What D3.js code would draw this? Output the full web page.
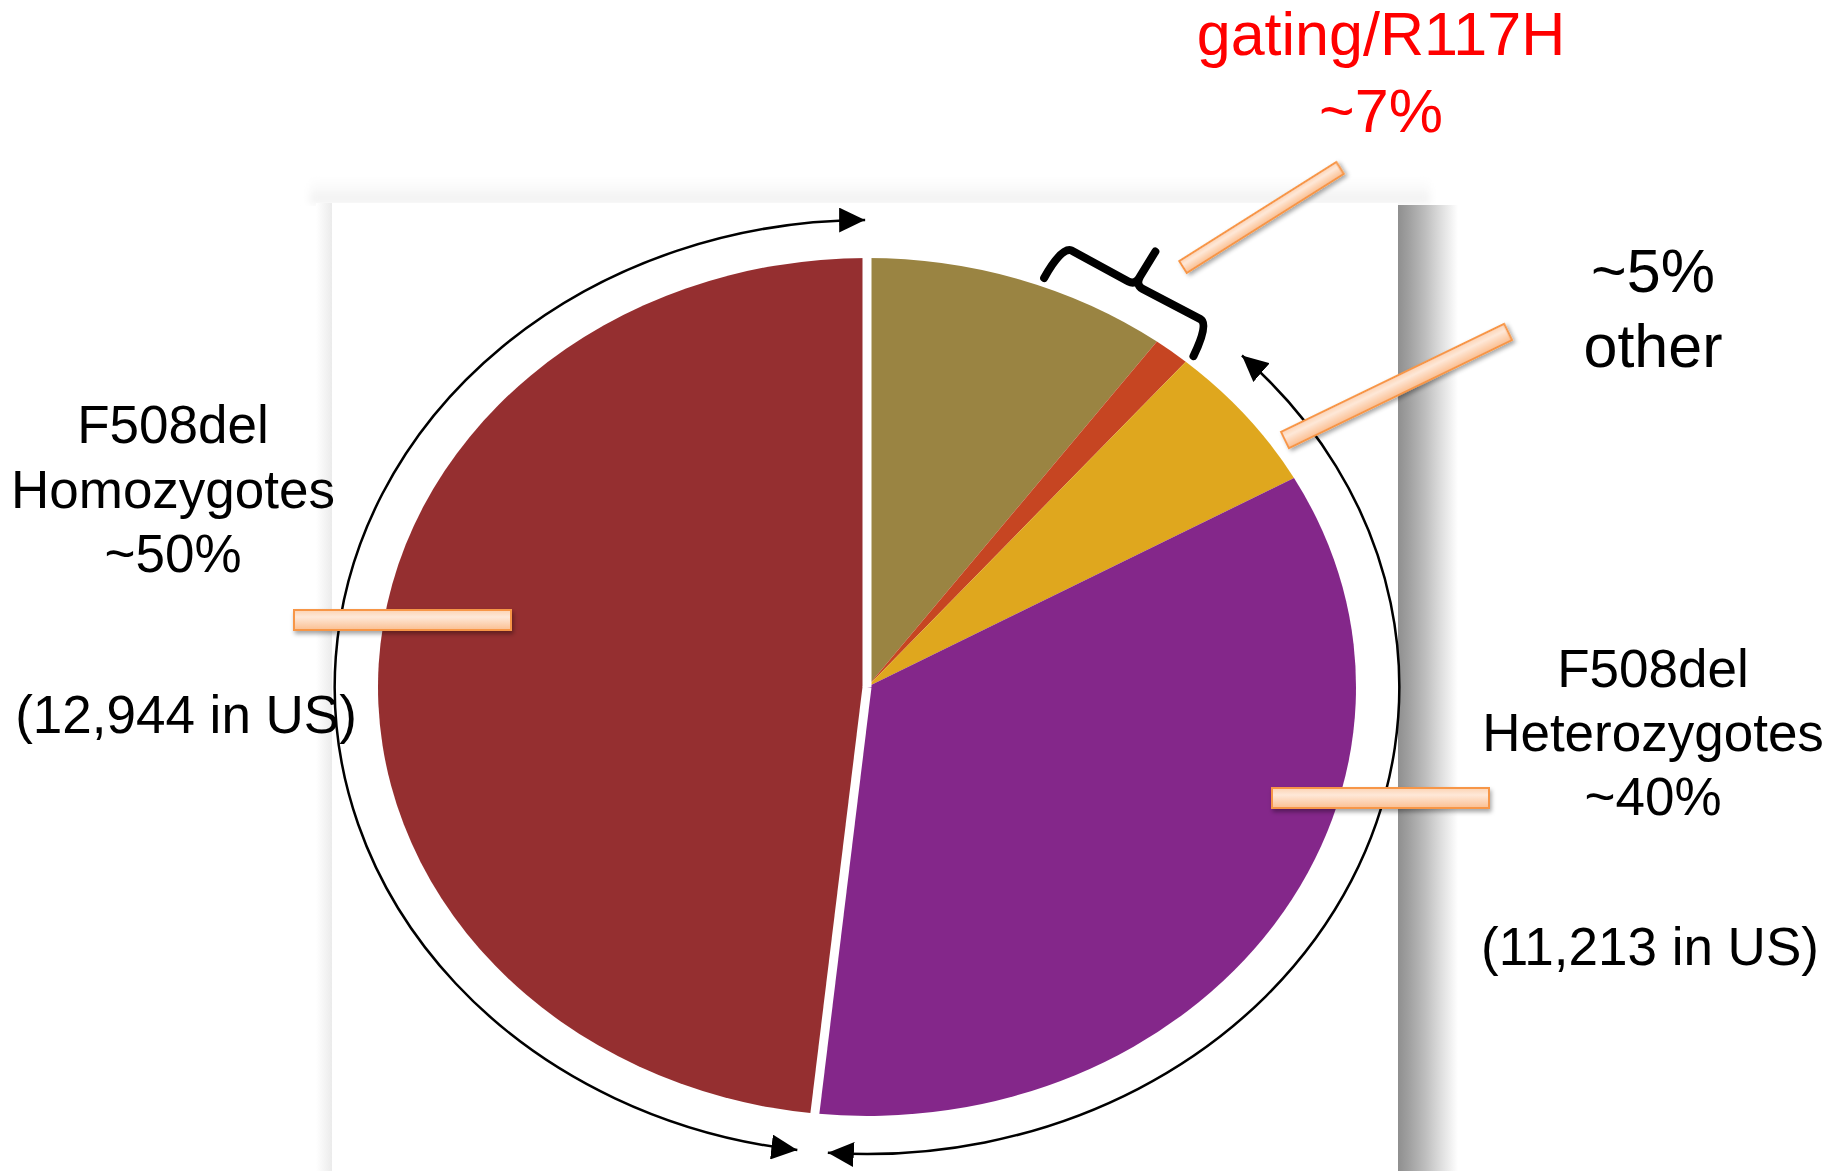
<!DOCTYPE html>
<html>
<head>
<meta charset="utf-8">
<script src="https://cdn.jsdelivr.net/npm/d3@7"></script>
<style>
  html, body { margin: 0; padding: 0; background: #fff; overflow: hidden; }
  text { font-family: "Liberation Sans", Arial, Helvetica, sans-serif; }
</style>
</head>
<body>
<svg id="chart" width="1839" height="1171"></svg>
<script>
// CF patient genotype groups, clockwise from 12 o'clock (percent of patients)
const categories = ["Non-F508del", "Gating/R117H", "F508del/other", "F508del heterozygotes", "F508del homozygotes"];
const shares = [10.1, 1.2, 5.6, 34.8, 48.3];
const sliceColors = ["#9A8442", "#C64522", "#DFA71E", "#84278A", "#952F30"];

// Text blocks
const homoLines = ["F508del", "Homozygotes", "~50%"];
const homoCount = "(12,944 in US)";
const heteroLines = ["F508del", "Heterozygotes", "~40%"];
const heteroCount = "(11,213 in US)";
const gatingLines = ["gating/R117H", "~7%"];
const otherLines = ["~5%", "other"];

// ---- layout ----
const W = 1839, H = 1171;
const cx = 867, cy = 687;      // pie centre
const R = 429;                  // vertical radius
const sx = 489 / 429;           // horizontal stretch of the pie
const Rarc = 467;               // radius of the bracketing arrows
const deg = d => d * Math.PI / 180;

const svg = d3.select("#chart");
const defs = svg.append("defs");

// gradients
function linGrad(id, x2, y2, stops) {
  const g = defs.append("linearGradient").attr("id", id)
    .attr("x1", 0).attr("y1", 0).attr("x2", x2).attr("y2", y2);
  stops.forEach(([o, c]) => g.append("stop").attr("offset", o).attr("stop-color", c));
}
linGrad("shadowRight", 1, 0, [[0, "#8f8f8f"], [0.2, "#a2a2a2"], [0.45, "#bdbdbd"], [0.7, "#dcdcdc"], [1, "#ffffff"]]);
linGrad("shadowTop", 0, 1, [[0, "#ffffff"], [0.6, "#f7f7f7"], [1, "#ececec"]]);
linGrad("shadowLeft", 1, 0, [[0, "#ffffff"], [1, "#ebebeb"]]);
linGrad("peach", 0, 1, [[0, "#FCD3B3"], [0.35, "#FEE8D8"], [1, "#FBBF91"]]);

const shadow = defs.append("filter").attr("id", "barShadow")
  .attr("x", "-20%").attr("y", "-60%").attr("width", "140%").attr("height", "220%");
shadow.append("feDropShadow").attr("dx", 1.5).attr("dy", 3).attr("stdDeviation", 2)
  .attr("flood-color", "#000").attr("flood-opacity", 0.35);

const soft = defs.append("filter").attr("id", "soft")
  .attr("x", "-10%").attr("y", "-10%").attr("width", "120%").attr("height", "120%");
soft.append("feGaussianBlur").attr("stdDeviation", 4);

// arrow head marker
defs.append("marker").attr("id", "head")
  .attr("viewBox", "0 0 26 25").attr("refX", 26).attr("refY", 12.5)
  .attr("markerWidth", 26).attr("markerHeight", 25)
  .attr("markerUnits", "userSpaceOnUse").attr("orient", "auto-start-reverse")
  .append("path").attr("d", "M0,0 L26,12.5 L0,25 Z").attr("fill", "#000");

// background + slide panel with its shadow
svg.append("rect").attr("width", W).attr("height", H).attr("fill", "#fff");
svg.append("rect").attr("x", 310).attr("y", 178).attr("width", 1120).attr("height", 25)
  .attr("fill", "url(#shadowTop)").attr("filter", "url(#soft)");
svg.append("rect").attr("x", 316).attr("y", 203).attr("width", 16).attr("height", H - 203).attr("fill", "url(#shadowLeft)");
svg.append("rect").attr("x", 1398).attr("y", 205).attr("width", 60).attr("height", H - 205).attr("fill", "url(#shadowRight)");
svg.append("rect").attr("x", 332).attr("y", 203).attr("width", 1066).attr("height", H - 203).attr("fill", "#fff");

// ---- pie ----
const arcs = d3.pie().sort(null).value(d => d)(shares);
const arcGen = d3.arc().innerRadius(0).outerRadius(R);
const pieG = svg.append("g").attr("transform", `translate(${cx},${cy}) scale(${sx},1)`);
pieG.selectAll("path.slice").data(arcs).join("path")
  .attr("class", "slice")
  .attr("d", arcGen)
  .attr("fill", (d, i) => sliceColors[i]);

// white separators around the homozygote wedge
const homo = arcs[4];
[homo.startAngle, homo.endAngle].forEach(a => {
  pieG.append("line")
    .attr("x1", 0).attr("y1", 0)
    .attr("x2", (R + 8) * Math.sin(a)).attr("y2", -(R + 8) * Math.cos(a))
    .attr("stroke", "#fff").attr("stroke-width", 9)
    .attr("vector-effect", "non-scaling-stroke");
});

// ---- bracketing arrows ----
const pt = (a, r) => [cx + r * sx * Math.sin(a), cy - r * Math.cos(a)];
function ellArc(a0, a1, r) {
  const p0 = pt(a0, r), p1 = pt(a1, r);
  const large = (a1 - a0) > Math.PI ? 1 : 0;
  return `M${p0[0]},${p0[1]} A${r * sx},${r} 0 ${large} 1 ${p1[0]},${p1[1]}`;
}
const arrowSpans = [
  [homo.startAngle + deg(1.4), homo.endAngle - deg(0.2)],           // homozygotes
  [arcs[2].startAngle + deg(4.1), arcs[3].endAngle - deg(1.9)]       // heterozygotes
];
svg.selectAll("path.span").data(arrowSpans).join("path")
  .attr("class", "span")
  .attr("d", d => ellArc(d[0], d[1], Rarc))
  .attr("fill", "none").attr("stroke", "#000").attr("stroke-width", 2.5)
  .attr("marker-start", "url(#head)").attr("marker-end", "url(#head)");

// ---- brace over the gating/R117H wedge ----
{
  const a0 = deg(20.8), a1 = arcs[1].endAngle + deg(0.2);
  const p0 = pt(a0, R * 1.02), p1 = pt(a1, R * 1.02);
  const L = Math.hypot(p1[0] - p0[0], p1[1] - p0[1]);
  const th = Math.atan2(p1[1] - p0[1], p1[0] - p0[0]) * 180 / Math.PI;
  svg.append("path")
    .attr("transform", `translate(${p0[0]},${p0[1]}) rotate(${th}) scale(${L / 168},1)`)
    .attr("d", "M0,0 Q1,-35 11,-37 L76,-36 Q84,-36 84,-46 L86,-75 M84,-46 Q84,-36 92,-36 L157,-36 Q167,-36 168,0")
    .attr("fill", "none").attr("stroke", "#000").attr("stroke-width", 8)
    .attr("stroke-linecap", "round").attr("stroke-linejoin", "round")
    .attr("vector-effect", "non-scaling-stroke");
}

// ---- callout bars ----
const callouts = [
  { from: [294, 620], to: [511, 620], t: 20 },
  { from: [1272, 798], to: [1489, 798], t: 20 },
  { from: [1183, 267], to: [1340, 168], t: 14 },
  { from: [1285, 440], to: [1508, 332], t: 18 }
];
callouts.forEach(c => {
  const len = Math.hypot(c.to[0] - c.from[0], c.to[1] - c.from[1]);
  const ang = Math.atan2(c.to[1] - c.from[1], c.to[0] - c.from[0]) * 180 / Math.PI;
  svg.append("rect")
    .attr("transform", `translate(${c.from[0]},${c.from[1]}) rotate(${ang})`)
    .attr("x", 0).attr("y", -c.t / 2).attr("width", len).attr("height", c.t)
    .attr("fill", "url(#peach)").attr("stroke", "#F79646").attr("stroke-width", 2)
    .attr("filter", "url(#barShadow)");
});

// ---- labels ----
function block(lines, x, y0, dy, size, color) {
  svg.append("g").selectAll("text").data(lines).join("text")
    .attr("x", x).attr("y", (d, i) => y0 + i * dy)
    .attr("text-anchor", "middle")
    .attr("font-size", size).attr("fill", color)
    .text(d => d);
}
block(homoLines, 173, 443, 64.5, 53, "#000");
block([homoCount], 186, 733, 0, 53, "#000");
block(heteroLines, 1653, 687, 64, 53, "#000");
block([heteroCount], 1650, 965, 0, 53, "#000");
block(gatingLines, 1381, 55, 77, 61, "#FF0000");
block(otherLines, 1653, 292, 75, 61, "#000");
</script>
</body>
</html>
